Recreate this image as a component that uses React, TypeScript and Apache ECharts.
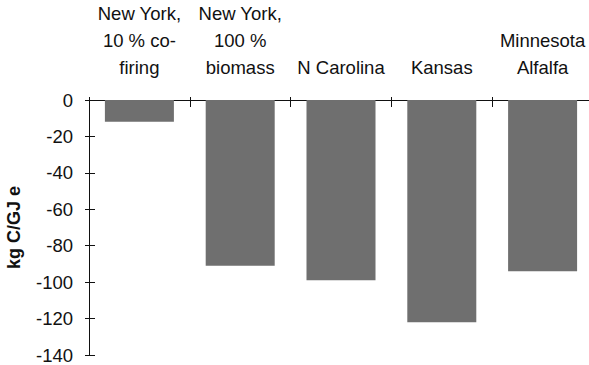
import React, { useEffect, useRef } from "react";
import * as echarts from "echarts";

const categories = [
  "New York,\n10 % co-\nfiring",
  "New York,\n100 %\nbiomass",
  "N Carolina",
  "Kansas",
  "Minnesota\nAlfalfa",
];
const values = [-12, -91, -99, -122, -94];
const yMin = -140;
const yMax = 0;
const yInterval = 20;
const yName = "kg C/GJ e";

export default function App() {
  const ref = useRef<HTMLDivElement>(null);
  useEffect(() => {
    if (!ref.current) return;
    const chart = echarts.init(ref.current, null, { renderer: "svg" });
    const font = "'Liberation Sans', Arial, Helvetica, sans-serif";
    chart.setOption({
      animation: false,
      backgroundColor: "#ffffff",
      grid: { left: 89, top: 100, width: 504, bottom: 10, containLabel: false, outerBoundsMode: "none" },
      xAxis: [
        {
          type: "category",
          data: categories,
          position: "top",
          axisLine: { show: true, onZero: false, lineStyle: { color: "#111", width: 1 } },
          axisTick: { show: true, inside: true, length: 7, alignWithLabel: false, lineStyle: { color: "#111" } },
          axisLabel: {
            color: "#111",
            fontFamily: font,
            fontSize: 18.5,
            lineHeight: 27,
            margin: 19,
            align: "center",
            interval: 0,
          },
          splitLine: { show: false },
        },
        {
          type: "category",
          data: categories,
          position: "top",
          axisLine: { show: false },
          axisTick: { show: true, inside: false, length: 3, lineStyle: { color: "#111" } },
          axisLabel: { show: false },
          splitLine: { show: false },
        },
      ],
      yAxis: [
        {
          type: "value",
          min: yMin,
          max: yMax,
          interval: yInterval,
          name: yName,
          nameLocation: "middle",
          nameRotate: 90,
          nameGap: 66,
          nameTextStyle: { color: "#111", fontFamily: font, fontSize: 18, fontWeight: "bold" },
          axisLine: { show: true, lineStyle: { color: "#111", width: 1 } },
          axisTick: { show: true, inside: false, length: 4, lineStyle: { color: "#111" } },
          axisLabel: { color: "#111", fontFamily: font, fontSize: 18.5, margin: 16 },
          splitLine: { show: false },
        },
        {
          type: "value",
          min: yMin,
          max: yMax,
          interval: yInterval,
          position: "left",
          axisLine: { show: false },
          axisTick: { show: true, inside: true, length: 6, lineStyle: { color: "#111" } },
          axisLabel: { show: false },
          splitLine: { show: false },
        },
      ],
      series: [
        {
          type: "bar",
          data: values,
          barWidth: 69,
          itemStyle: { color: "#6f6f6f" },
          xAxisIndex: 0,
          yAxisIndex: 0,
        },
      ],
    });
    return () => chart.dispose();
  }, []);
  return (
    <div
      ref={ref}
      style={{ position: "fixed", left: 0, top: 0, width: 589, height: 365, background: "#fff" }}
    />
  );
}
